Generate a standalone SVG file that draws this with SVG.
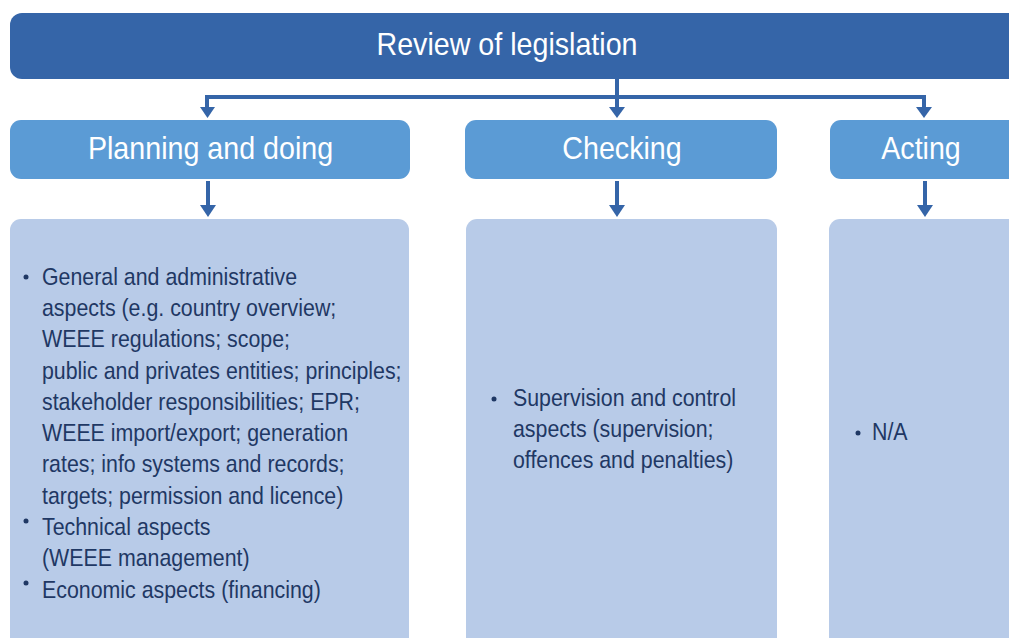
<svg xmlns="http://www.w3.org/2000/svg" width="1009" height="638" viewBox="0 0 1009 638">
<defs>
<style>
.top{fill:#3565A8}
.head{fill:#5B9BD5}
.body{fill:#B8CBE8}
.ht{font-family:"Liberation Sans",Arial,sans-serif;fill:#fff;font-size:32px;text-anchor:middle}
.bt{font-family:"Liberation Sans",Arial,sans-serif;fill:#1F3864;font-size:24px}
.bul{fill:#1F3864}
.con{stroke:#3565A8;stroke-width:4;fill:none}
</style>
</defs>
<g id="review">
<rect class="top" x="10" y="13" width="1020" height="66" rx="12"/>
<text class="ht" transform="translate(507,55) scale(0.895,1)">Review of legislation</text>
</g>
<g id="planning">
<rect class="head" x="10" y="120" width="400" height="59" rx="11"/>
<text class="ht" transform="translate(210.5,159) scale(0.895,1)">Planning and doing</text>
</g>
<g id="checking">
<rect class="head" x="465" y="120" width="312" height="59" rx="11"/>
<text class="ht" transform="translate(622,159) scale(0.895,1)">Checking</text>
</g>
<g id="acting">
<rect class="head" x="830" y="120" width="200" height="59" rx="11"/>
<text class="ht" transform="translate(921,159) scale(0.895,1)">Acting</text>
</g>
<g id="planning-content">
<rect class="body" x="10" y="219" width="399" height="440" rx="11"/>
<circle class="bul" cx="26" cy="277" r="2.5"/>
<circle class="bul" cx="26" cy="521" r="2.5"/>
<circle class="bul" cx="26" cy="583" r="2.5"/>
<text class="bt" transform="translate(42,0) scale(0.89,1)">
<tspan x="0" y="285">General and administrative</tspan>
<tspan x="0" y="316">aspects (e.g. country overview;</tspan>
<tspan x="0" y="347">WEEE regulations; scope;</tspan>
<tspan x="0" y="379">public and privates entities; principles;</tspan>
<tspan x="0" y="410">stakeholder responsibilities; EPR;</tspan>
<tspan x="0" y="441">WEEE import/export; generation</tspan>
<tspan x="0" y="472">rates; info systems and records;</tspan>
<tspan x="0" y="504">targets; permission and licence)</tspan>
<tspan x="0" y="535">Technical aspects</tspan>
<tspan x="0" y="566">(WEEE management)</tspan>
<tspan x="0" y="598">Economic aspects (financing)</tspan>
</text>
</g>
<g id="checking-content">
<rect class="body" x="466" y="219" width="311" height="440" rx="11"/>
<circle class="bul" cx="494" cy="399" r="2.5"/>
<text class="bt" transform="translate(513,0) scale(0.89,1)">
<tspan x="0" y="406">Supervision and control</tspan>
<tspan x="0" y="437">aspects (supervision;</tspan>
<tspan x="0" y="468">offences and penalties)</tspan>
</text>
</g>
<g id="acting-content">
<rect class="body" x="829" y="219" width="200" height="440" rx="11"/>
<circle class="bul" cx="858" cy="433" r="2.5"/>
<text class="bt" transform="translate(872,440) scale(0.89,1)">N/A</text>
</g>
<g id="connectors">
<path class="con" d="M617 79 V108 M207 97 H924 M207 95 V108 M924 95 V108"/>
<path class="con" d="M208 181 V207 M617 181 V207 M925 181 V207"/>
<g fill="#3565A8">
<polygon points="200,107 215,107 207.5,118"/>
<polygon points="609,107 625,107 617,118"/>
<polygon points="916,107 932,107 924,118"/>
<polygon points="200,205 216,205 208,217"/>
<polygon points="609,205 625,205 617,217"/>
<polygon points="917,205 933,205 925,217"/>
</g>
</g>
</svg>
